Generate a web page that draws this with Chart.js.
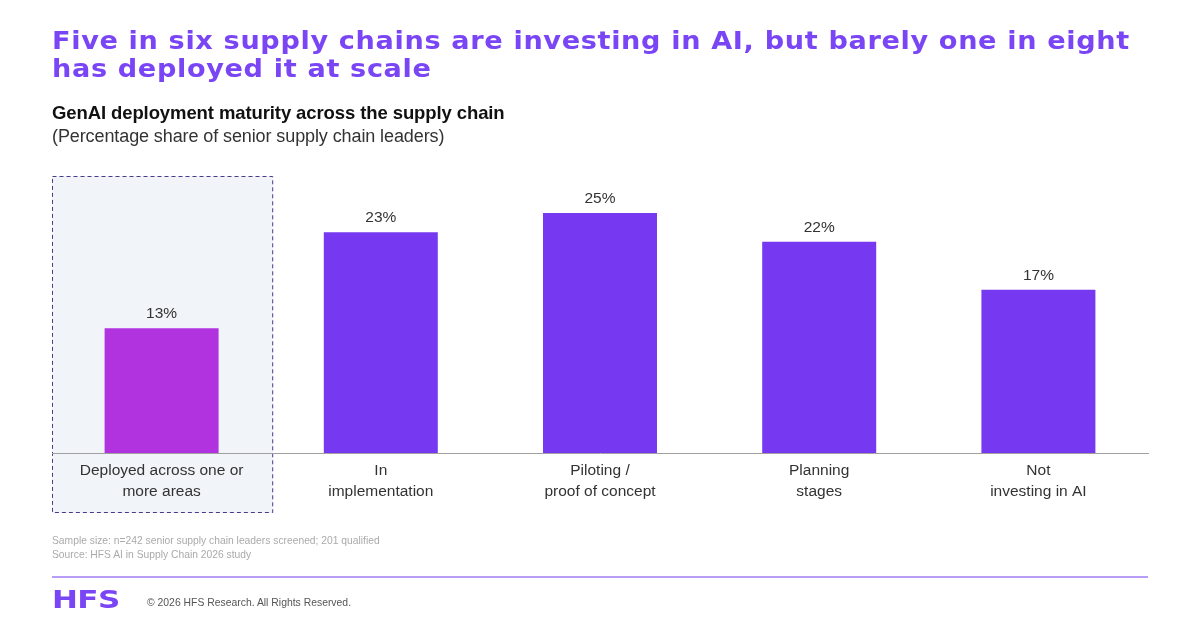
<!DOCTYPE html>
<html>
<head>
<meta charset="utf-8">
<script src="https://cdn.jsdelivr.net/npm/chart.js@4"></script>
<style>
  html, body { margin: 0; padding: 0; background: #fff; }
  #wrap { position: relative; width: 1200px; height: 627px; overflow: hidden; font-family: "Liberation Sans", Arial, sans-serif; }
  #chart { position: absolute; left: 0; top: 0; }
  .title { position: absolute; left: 52px; top: 27px; font-family: "DejaVu Sans", sans-serif; font-weight: bold; font-size: 25px; line-height: 28px; color: #7a45f5; letter-spacing: 0.6px; white-space: nowrap; transform: scaleX(1.085); transform-origin: left top; }
  .sub { position: absolute; left: 52px; top: 102px; font-size: 18.5px; font-weight: bold; color: #111; letter-spacing: -0.1px; }
  .sub2 { position: absolute; left: 52px; top: 126px; font-size: 18px; color: #333; letter-spacing: -0.1px; }
  .note { position: absolute; left: 52px; font-size: 10.3px; color: #aaa; }
  .rule { position: absolute; left: 52px; top: 576px; width: 1096px; height: 2px; background: #b89cf5; }
  .logo { position: absolute; left: 52px; top: 586px; font-family: "DejaVu Sans", sans-serif; font-weight: 900; font-size: 25px; line-height: 28px; color: #7a45f5; letter-spacing: -0.5px; transform: scaleX(1.24); transform-origin: left center; }
  .copy { position: absolute; left: 147px; top: 597px; font-size: 10.4px; color: #555; }
</style>
</head>
<body>
<div id="wrap">
  <canvas id="chart" width="1200" height="627"></canvas>
  <div class="title">Five in six supply chains are investing in AI, but barely one in eight<br>has deployed it at scale</div>
  <div class="sub">GenAI deployment maturity across the supply chain</div>
  <div class="sub2">(Percentage share of senior supply chain leaders)</div>
  <div class="note" style="top:535px">Sample size: n=242 senior supply chain leaders screened; 201 qualified</div>
  <div class="note" style="top:549px">Source: HFS AI in Supply Chain 2026 study</div>
  <div class="rule"></div>
  <div class="logo">HFS</div>
  <div class="copy">© 2026 HFS Research. All Rights Reserved.</div>
</div>
<script>
const categories = [
  ['Deployed across one or', 'more areas'],
  ['In', 'implementation'],
  ['Piloting /', 'proof of concept'],
  ['Planning', 'stages'],
  ['Not', 'investing in AI']
];
const shares = [13, 23, 25, 22, 17];
const barColors = ['#b133e0', '#7638f0', '#7638f0', '#7638f0', '#7638f0'];

// shaded dashed box behind the first category
const highlightBox = {
  id: 'highlightBox',
  beforeDraw(chart) {
    const { ctx, scales: { x }, chartArea } = chart;
    const half = x.width / categories.length / 2;
    const cx = x.getPixelForValue(0);
    const left = cx - half, right = cx + half + 2;
    const top = chartArea.top, bottom = chartArea.bottom + 60;
    ctx.save();
    ctx.fillStyle = '#f1f4f8';
    ctx.fillRect(left, top, right - left, bottom - top);
    ctx.setLineDash([4, 3]);
    ctx.strokeStyle = '#4a3a8c';
    ctx.lineWidth = 1;
    ctx.strokeRect(left + 0.5, top + 0.5, right - left - 1, bottom - top - 1);
    ctx.restore();
  }
};

const valueLabels = {
  id: 'valueLabels',
  afterDatasetsDraw(chart) {
    const { ctx } = chart;
    const meta = chart.getDatasetMeta(0);
    ctx.save();
    ctx.font = '15.5px "Liberation Sans", Arial, sans-serif';
    ctx.fillStyle = '#333';
    ctx.textAlign = 'center';
    ctx.textBaseline = 'middle';
    meta.data.forEach((bar, i) => {
      ctx.fillText(shares[i] + '%', bar.x, bar.y - 14);
    });
    ctx.restore();
  }
};

new Chart(document.getElementById('chart'), {
  type: 'bar',
  data: {
    labels: categories,
    datasets: [{
      data: shares,
      backgroundColor: barColors,
      borderWidth: 0,
      categoryPercentage: 1,
      barPercentage: 0.52
    }]
  },
  options: {
    responsive: false,
    animation: false,
    layout: { padding: { left: 52, right: 52, top: 176, bottom: 114 } },
    plugins: { legend: { display: false }, tooltip: { enabled: false } },
    scales: {
      x: {
        grid: { display: false, drawTicks: false },
        border: { display: true, color: '#a0a0a0', width: 1 },
        ticks: {
          color: '#333',
          padding: 7,
          maxRotation: 0,
          autoSkip: false,
          font: { family: '"Liberation Sans", Arial, sans-serif', size: 15.5, lineHeight: 1.35 }
        },
        afterFit(axis) { axis.height = 60; }
      },
      y: { display: false, min: 0, max: 28.85 }
    }
  },
  plugins: [highlightBox, valueLabels]
});
</script>
</body>
</html>
